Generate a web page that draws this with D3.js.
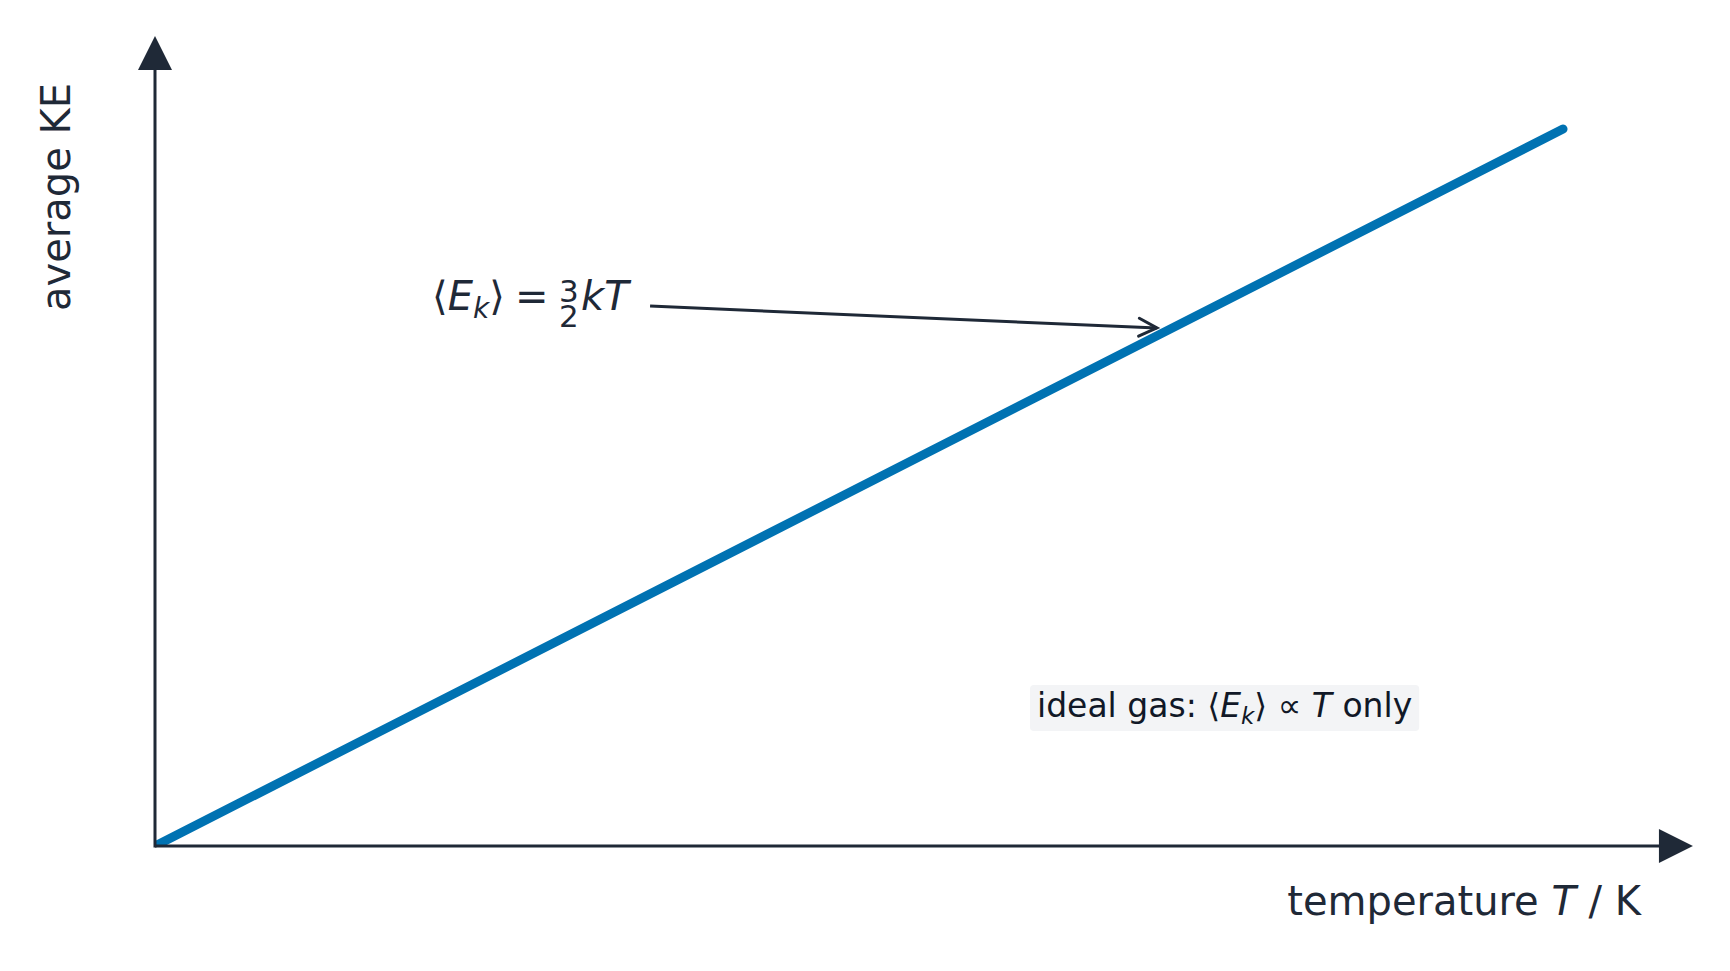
<!DOCTYPE html>
<html>
<head>
<meta charset="utf-8">
<script src="https://cdn.jsdelivr.net/npm/d3@7/dist/d3.min.js"></script>
<style>
body { margin: 0; background: #fff; }
svg { display: block; font-family: "DejaVu Sans", sans-serif; }
</style>
</head>
<body>
<div id="chart"></div>
<script>
"use strict";

/* DATA */

// average kinetic energy rises in proportion to temperature (arbitrary units)
let temperature = [0, 1];
let averageKE = [0, 1];

// how far the axis arrows reach past the data (data units)
let axisEnds = [1.0923, 1.1297];

// annotation arrow, from the label to the line (data units)
let arrowFrom = [0.3516, 0.7530];
let arrowTo = [0.7116, 0.7225];

// where the note box sits (data units)
let notePos = [0.6264, 0.1800];

/* SVG SETUP */

let svgWidth = 1730;
let svgHeight = 971;
let ink = "#1f2937";
let lineBlue = "#0072b2";

let svg = d3.select("#chart")
    .append("svg")
    .attr("width", svgWidth)
    .attr("height", svgHeight);

/* SCALES */

let xScale = d3.scaleLinear()
    .domain([0, 1])
    .range([155, 1563]);

let yScale = d3.scaleLinear()
    .domain([0, 1])
    .range([846, 129]);

let x0 = xScale(0);
let y0 = yScale(0);

/* DATA LINE */

// clip so the line does not poke outside the axes at the origin
svg.append("clipPath")
    .attr("id", "plotClip")
    .append("rect")
    .attr("x", x0)
    .attr("y", 0)
    .attr("width", svgWidth - x0)
    .attr("height", y0);

let points = temperature.map((t, i) => [t, averageKE[i]]);

let line = d3.line()
    .x(d => xScale(d[0]))
    .y(d => yScale(d[1]));

svg.append("path")
    .datum(points)
    .attr("clip-path", "url(#plotClip)")
    .attr("d", line)
    .attr("fill", "none")
    .attr("stroke", lineBlue)
    .attr("stroke-width", 9)
    .attr("stroke-linecap", "round");

/* AXES WITH ARROWS */

let headLen = 34;
let headHalf = 17;
let xTip = xScale(axisEnds[0]);
let yTip = yScale(axisEnds[1]);

// x axis
svg.append("line")
    .attr("x1", x0)
    .attr("y1", y0)
    .attr("x2", xTip - headLen + 2)
    .attr("y2", y0)
    .attr("stroke", ink)
    .attr("stroke-width", 3);

svg.append("path")
    .attr("d", `M${xTip},${y0} L${xTip - headLen},${y0 - headHalf} L${xTip - headLen},${y0 + headHalf} Z`)
    .attr("fill", ink);

// y axis
svg.append("line")
    .attr("x1", x0)
    .attr("y1", y0 + 1.5)
    .attr("x2", x0)
    .attr("y2", yTip + headLen - 2)
    .attr("stroke", ink)
    .attr("stroke-width", 3);

svg.append("path")
    .attr("d", `M${x0},${yTip} L${x0 - headHalf},${yTip + headLen} L${x0 + headHalf},${yTip + headLen} Z`)
    .attr("fill", ink);

/* AXIS LABELS */

let xLabel = svg.append("text")
    .attr("x", 1641)
    .attr("y", 915)
    .attr("text-anchor", "end")
    .attr("font-size", "40px")
    .attr("fill", ink);
xLabel.append("tspan").text("temperature ");
xLabel.append("tspan").attr("font-style", "italic").text("T");
xLabel.append("tspan").text(" / K");

svg.append("text")
    .attr("transform", "translate(70,83) rotate(-90)")
    .attr("text-anchor", "end")
    .attr("font-size", "40px")
    .attr("fill", ink)
    .text("average KE");

/* ANNOTATION ARROW */

let ax1 = xScale(arrowFrom[0]), ay1 = yScale(arrowFrom[1]);
let ax2 = xScale(arrowTo[0]), ay2 = yScale(arrowTo[1]);

svg.append("line")
    .attr("x1", ax1)
    .attr("y1", ay1)
    .attr("x2", ax2)
    .attr("y2", ay2)
    .attr("stroke", ink)
    .attr("stroke-width", 3);

// open chevron head
let ang = Math.atan2(ay2 - ay1, ax2 - ax1);
let hl = 18, hw = 9;
let bx = ax2 - hl * Math.cos(ang), by = ay2 - hl * Math.sin(ang);
let px = -Math.sin(ang) * hw, py = Math.cos(ang) * hw;
svg.append("path")
    .attr("d", `M${bx + px},${by + py} L${ax2},${ay2} L${bx - px},${by - py}`)
    .attr("fill", "none")
    .attr("stroke", ink)
    .attr("stroke-width", 3)
    .attr("stroke-linecap", "round")
    .attr("stroke-linejoin", "miter");

/* FORMULA LABEL  <E_k> = 3/2 kT */

let fx = ax1;      // formula is laid out to the left of the arrow start
let fy = ay1 + 4;  // baseline

// everything in one text element, pieces placed with x / y
let formula = svg.append("text")
    .attr("font-size", "40px")
    .attr("fill", ink);
formula.append("tspan").attr("x", fx - 218).attr("y", fy).text("\u27E8");
formula.append("tspan").attr("font-style", "italic").text("E");
formula.append("tspan").attr("font-style", "italic").attr("font-size", "28px").attr("dy", 8).text("k");
formula.append("tspan").attr("dy", -8).text("\u27E9");
formula.append("tspan").attr("x", fx - 135).attr("y", fy).text("=");
formula.append("tspan").attr("x", fx - 91).attr("y", fy - 8).attr("font-size", "31px").text("3");
formula.append("tspan").attr("x", fx - 91).attr("y", fy + 17).attr("font-size", "31px").text("2");
formula.append("tspan").attr("x", fx - 69).attr("y", fy).attr("font-style", "italic").text("kT");

/* NOTE BOX */

let noteG = svg.append("g");
let noteRect = noteG.append("rect");

let nx = xScale(notePos[0]);
let ny = yScale(notePos[1]);

let note = noteG.append("text")
    .attr("x", nx)
    .attr("y", ny)
    .attr("font-size", "33px")
    .attr("fill", "#111827");
note.append("tspan").text("ideal gas: \u27E8");
note.append("tspan").attr("font-style", "italic").text("E");
note.append("tspan").attr("font-style", "italic").attr("font-size", "23px").attr("dy", 7).text("k");
note.append("tspan").attr("dy", -7).text("\u27E9 \u221D ");
note.append("tspan").attr("font-style", "italic").text("T");
note.append("tspan").text(" only");

let nb = note.node().getBBox();
noteRect
    .attr("x", nb.x - 7)
    .attr("y", ny - 32)
    .attr("width", nb.width + 14)
    .attr("height", 46)
    .attr("rx", 4)
    .attr("fill", "#f3f4f6");
</script>
</body>
</html>
